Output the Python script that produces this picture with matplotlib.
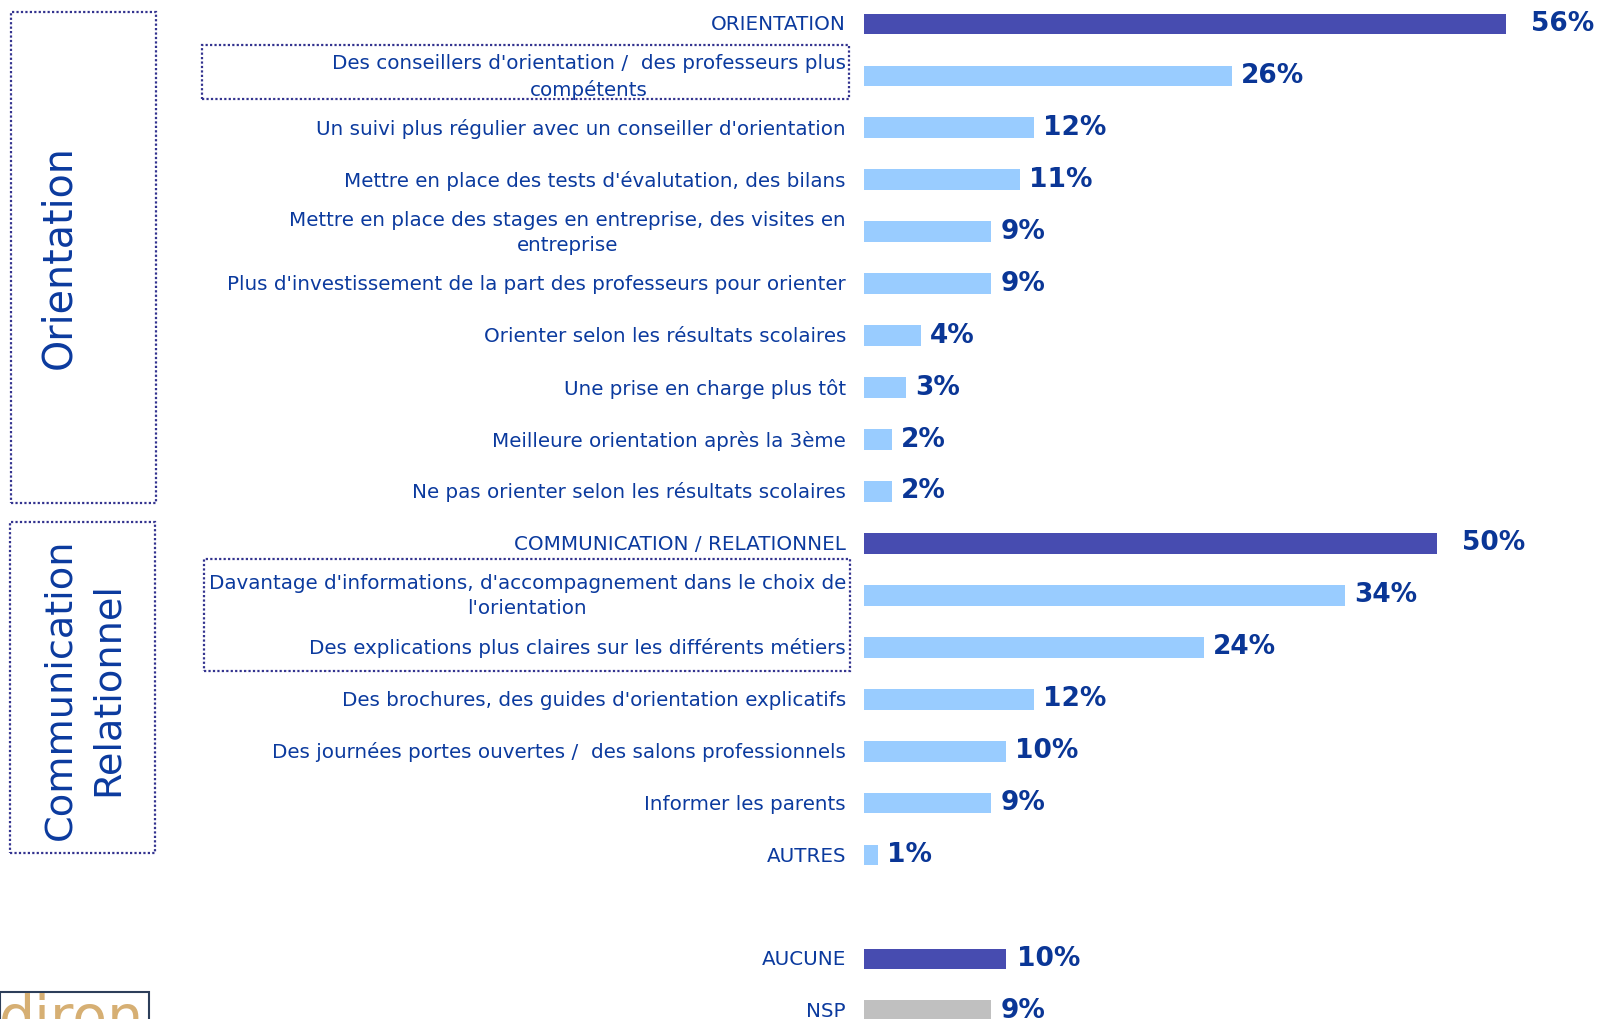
import matplotlib
matplotlib.use("Agg")
import matplotlib.pyplot as plt
from matplotlib.patches import Rectangle
from matplotlib.transforms import offset_copy

# data
header_labels = ["ORIENTATION", "COMMUNICATION / RELATIONNEL"]
header_values = [56, 50]

orientation_labels = [
    "Des conseillers d'orientation /  des professeurs plus\ncompétents",
    "Un suivi plus régulier avec un conseiller d'orientation",
    "Mettre en place des tests d'évalutation, des bilans",
    "Mettre en place des stages en entreprise, des visites en\nentreprise",
    "Plus d'investissement de la part des professeurs pour orienter",
    "Orienter selon les résultats scolaires",
    "Une prise en charge plus tôt",
    "Meilleure orientation après la 3ème",
    "Ne pas orienter selon les résultats scolaires",
]
orientation_values = [26, 12, 11, 9, 9, 4, 3, 2, 2]

communication_labels = [
    "Davantage d'informations, d'accompagnement dans le choix de\nl'orientation",
    "Des explications plus claires sur les différents métiers",
    "Des brochures, des guides d'orientation explicatifs",
    "Des journées portes ouvertes /  des salons professionnels",
    "Informer les parents",
    "AUTRES",
]
communication_values = [34, 24, 12, 10, 9, 1]

aucune_label, aucune_value = "AUCUNE", 10
nsp_label, nsp_value = "NSP", 9

W, H = 1597, 1019
DARK = "#474CB0"
LIGHT = "#99CCFF"
GREY = "#C0C0C0"
TXT = "#0B3A9E"
VAL = "#0A3696"
BOX = "#33338F"

fig = plt.figure(figsize=(W / 100, H / 100), dpi=100)


def fx(px):
    return px / W


def fy(py):
    return 1 - py / H


# row layout: row r centred at row0 + step*r px from top
row0, step = 24.0, 51.94
top = row0 - 0.5 * step
bot = row0 + 19.5 * step
x0 = 864
ax = fig.add_axes([fx(x0), fy(bot), fx(W - x0), (bot - top) / H])
ax.set_ylim(19.5, -0.5)
ax.set_xlim(0, (W - x0) / 14.16)
ax.axis("off")

axh = ax.twiny()
axh.set_ylim(19.5, -0.5)
axh.set_xlim(0, (W - x0) / 11.46)
axh.axis("off")

label_tr = offset_copy(ax.get_yaxis_transform(), fig=fig, x=-18, y=-1, units="dots")
lab_font = dict(family="DejaVu Sans", fontsize=14.3, color=TXT)
val_font = dict(family="DejaVu Sans", fontsize=19, fontweight="bold", color=VAL)

orient_rows = list(range(1, 10))
comm_rows = list(range(11, 17))
header_rows = [0, 10]


def add_label(row, text):
    ax.text(0, row, text, transform=label_tr, ha="right", va="center",
            multialignment="center", linespacing=1.4, **lab_font)


def add_bar(axis, row, value, color, gap):
    axis.barh(row, value, height=0.4, color=color, align="center")
    tr = offset_copy(axis.transData, fig=fig, x=gap, y=0, units="dots")
    axis.text(value, row, f"{value}%", transform=tr, ha="left", va="center", **val_font)


for r, lab, v in zip(header_rows, header_labels, header_values):
    add_label(r, lab)
    add_bar(axh, r, v, DARK, 25)

for r, lab, v in zip(orient_rows, orientation_labels, orientation_values):
    add_label(r, lab)
    add_bar(ax, r, v, LIGHT, 9)

for r, lab, v in zip(comm_rows, communication_labels, communication_values):
    add_label(r, lab)
    add_bar(ax, r, v, LIGHT, 9)

add_label(18, aucune_label)
add_bar(ax, 18, aucune_value, DARK, 11)
add_label(19, nsp_label)
add_bar(ax, 19, nsp_value, GREY, 9)


def dotted_box(x1, y1, x2, y2):
    fig.add_artist(Rectangle((fx(x1), fy(y2)), fx(x2 - x1), (y2 - y1) / H,
                             transform=fig.transFigure, fill=False, edgecolor=BOX,
                             linewidth=1.6, linestyle=(0, (1, 1))))


# side boxes
dotted_box(11, 12, 156, 503)
dotted_box(10, 522, 155, 853)
fig.text(fx(59), fy(257), "Orientation", rotation=90, ha="center", va="center",
         fontsize=28.5, color=TXT, family="DejaVu Sans")
fig.text(fx(84), fy(689), "Communication\nRelationnel", rotation=90, ha="center",
         va="center", multialignment="center", linespacing=1.38,
         fontsize=27.5, color=TXT, family="DejaVu Sans")

# highlight boxes around labels
dotted_box(202, 45, 849, 99)
dotted_box(204, 559, 850, 671)

# logo fragment
fig.add_artist(Rectangle((fx(0), fy(1040)), fx(149), 48 / H, transform=fig.transFigure,
                         fill=False, edgecolor="#2C3E5A", linewidth=1.5))
fig.text(fx(-1), fy(1036), "diron", ha="left", va="baseline", fontsize=41,
         color="#D6AF73", family="DejaVu Sans")

fig.savefig("out.png", dpi=100)
